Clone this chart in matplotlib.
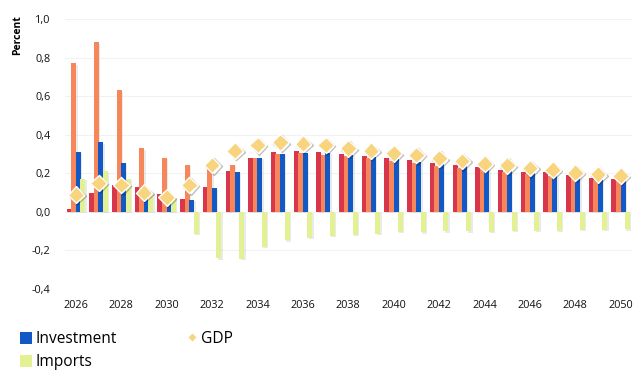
import numpy as np
import matplotlib
matplotlib.use('Agg')
import matplotlib.pyplot as plt
import matplotlib.patheffects as pe
from matplotlib.lines import Line2D
from matplotlib.patches import Patch
from matplotlib.ticker import FuncFormatter

plt.rcParams['font.family'] = ['Open Sans', 'DejaVu Sans']

years = np.arange(2026, 2051)

# unlabelled series (cut off from the legend in the original)
series_red = [0.015, 0.10, 0.14, 0.13, 0.095, 0.068, 0.13, 0.213, 0.28, 0.312,
              0.318, 0.312, 0.302, 0.29, 0.28, 0.27, 0.255, 0.245, 0.234, 0.219,
              0.208, 0.205, 0.193, 0.177, 0.172]
series_orange = [0.77, 0.88, 0.63, 0.33, 0.28, 0.245, 0.23, 0.245, 0.278, 0.30,
                 0.304, 0.297, 0.288, 0.278, 0.264, 0.252, 0.24, 0.23, 0.222, 0.207,
                 0.196, 0.186, 0.175, 0.165, 0.161]
investment = [0.31, 0.36, 0.255, 0.12, 0.06, 0.063, 0.123, 0.208, 0.28, 0.302,
              0.307, 0.307, 0.297, 0.283, 0.276, 0.26, 0.246, 0.24, 0.226, 0.213,
              0.203, 0.198, 0.186, 0.173, 0.167]
imports = [0.17, 0.21, 0.17, 0.10, 0.078, -0.115, -0.24, -0.243, -0.18, -0.148,
           -0.134, -0.125, -0.12, -0.113, -0.104, -0.106, -0.10, -0.10, -0.103, -0.099,
           -0.099, -0.099, -0.094, -0.094, -0.09]
gdp = [0.09, 0.15, 0.14, 0.10, 0.075, 0.14, 0.243, 0.318, 0.347, 0.36,
       0.354, 0.347, 0.33, 0.318, 0.304, 0.295, 0.278, 0.264, 0.25, 0.241,
       0.227, 0.219, 0.203, 0.194, 0.1875]

c_red = '#d8374b'
c_orange = '#f7875a'
c_blue = '#1259c6'
c_yellow = '#e4f192'
c_gdp = '#f8d47e'

fig = plt.figure(figsize=(6.42, 3.72), dpi=100)
ax = fig.add_axes([0.1006, 0.223, 0.884, 0.726])

shadow = [pe.SimplePatchShadow(offset=(1.0, -1.0), shadow_rgbFace='#999999', alpha=0.2), pe.Normal()]

w = 0.22
for vals, off, col in [(series_red, -0.3, c_red), (series_orange, -0.1, c_orange),
                       (investment, 0.1, c_blue), (imports, 0.3, c_yellow)]:
    bars = ax.bar(years + off, vals, width=w, color=col, linewidth=0, zorder=3)
    for b in bars:
        b.set_path_effects(shadow)

ax.plot(years, gdp, linestyle='none', marker='D', markersize=8.5, markerfacecolor=c_gdp,
        markeredgecolor='white', markeredgewidth=1.0, zorder=5,
        path_effects=[pe.SimpleLineShadow(offset=(1, -1), alpha=0.25), pe.Normal()])

ax.set_xlim(2025.5, 2050.5)
ax.set_ylim(-0.4, 1.0)
ax.set_yticks(np.arange(-0.4, 1.01, 0.2))
ax.yaxis.set_major_formatter(FuncFormatter(lambda v, p: ('%.1f' % v).replace('.', ',').replace('-0,0', '0,0')))
ax.set_xticks(years[::2])
ax.tick_params(axis='both', length=0, labelsize=7.8, colors='#111111')
ax.tick_params(axis='y', pad=10)
ax.tick_params(axis='x', pad=8)
ax.grid(axis='y', color='#f2f2f2', linewidth=0.8, zorder=0)
for s in ax.spines.values():
    s.set_visible(False)

fig.text(18 / 642, 1 - 35 / 372, 'Percent', rotation=90, ha='center', va='center',
         fontsize=7.5, fontweight='bold')

handles = [Patch(facecolor=c_blue, edgecolor='none'),
           Patch(facecolor=c_yellow, edgecolor='none'),
           Line2D([], [], linestyle='none', marker='D', markersize=5, markerfacecolor=c_gdp,
                  markeredgecolor='white')]
fig.legend(handles, ['Investment', 'Imports', 'GDP'], ncol=2, loc='upper left',
           bbox_to_anchor=(20 / 642, 1 - 331 / 372), frameon=False, fontsize=11.2,
           handlelength=0.8, handleheight=0.8, handletextpad=0.2,
           labelspacing=0.45, columnspacing=4.4, borderaxespad=0, borderpad=0)

fig.savefig('out.png', dpi=100)
